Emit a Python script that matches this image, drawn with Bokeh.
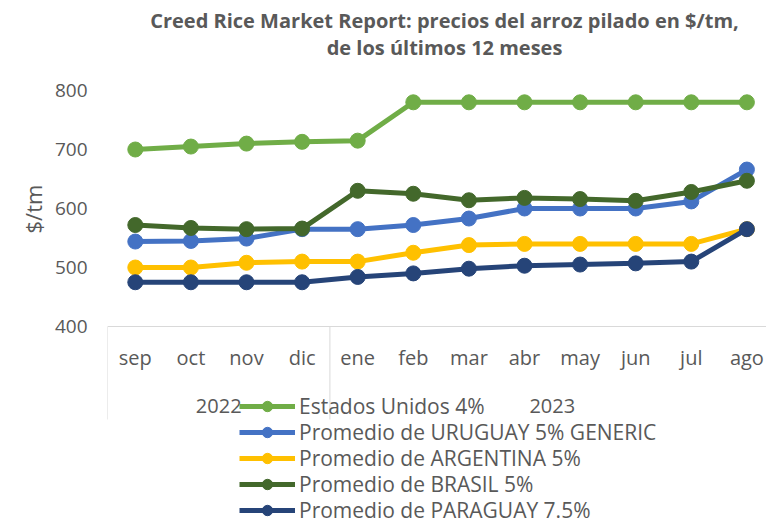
from bokeh.plotting import figure
from bokeh.models import Range1d, FixedTicker, Legend, LegendItem, Title
from bokeh.core.properties import value
from bokeh.embed import file_html
from bokeh.resources import INLINE

months = ["sep", "oct", "nov", "dic", "ene", "feb", "mar", "abr", "may", "jun", "jul", "ago"]
years = ["2022", "2023"]
year_first_month = [0, 4]
year_last_month = [3, 11]

usa = [700, 705, 710, 713, 715, 780, 780, 780, 780, 780, 780, 780]
uruguay = [544, 545, 549, 565, 565, 572, 583, 600, 600, 600, 612, 666]
argentina = [500, 500, 508, 510, 510, 525, 538, 540, 540, 540, 540, 565]
brasil = [572, 567, 565, 566, 630, 625, 614, 618, 616, 613, 628, 647]
paraguay = [475, 475, 475, 475, 484, 490, 498, 503, 505, 507, 510, 565]

series_names = ["Estados Unidos 4%", "Promedio de URUGUAY 5% GENERIC",
                "Promedio de ARGENTINA 5%", "Promedio de BRASIL 5%",
                "Promedio de PARAGUAY 7.5%"]
series_values = [usa, uruguay, argentina, brasil, paraguay]
series_colors = ["#70AD47", "#4472C4", "#FFC000", "#43682B", "#264478"]

title_lines = ["Creed Rice Market Report: precios del arroz pilado en $/tm,",
               "de los últimos 12 meses"]
y_ticks = [400, 500, 600, 700, 800]
y_title = "$/tm"

FONT = "Open Sans"
GRAY = "#595959"
LIGHT = "#D9D9D9"

# layout (pixels)
W, H = 766, 519
FRAME_LEFT = 107
PLOT_TOP = 90                       # pixel row of the top value (800)
PX_PER_UNIT = 236 / 400.0           # vertical scale of the value axis
CAT_PX = 55.6                       # width of one month slot
Y_MIN, Y_MAX = y_ticks[0], y_ticks[-1]
y_bottom = Y_MIN - (H - PLOT_TOP - (Y_MAX - Y_MIN) * PX_PER_UNIT) / PX_PER_UNIT
y_top = Y_MAX + PLOT_TOP / PX_PER_UNIT
x_right = -0.5 + (W - FRAME_LEFT) / CAT_PX
month_label_y = Y_MIN - 31 / PX_PER_UNIT
year_label_y = Y_MIN - 79 / PX_PER_UNIT
sep_bottom_y = Y_MIN - 93 / PX_PER_UNIT
title_x = -0.5 + (444 - FRAME_LEFT) / CAT_PX
title_y = [Y_MAX + (PLOT_TOP - 20) / PX_PER_UNIT, Y_MAX + (PLOT_TOP - 47) / PX_PER_UNIT]

x = list(range(len(months)))

p = figure(width=W, height=H, output_backend="svg", toolbar_location=None,
           x_range=Range1d(-0.5, x_right), y_range=Range1d(y_bottom, y_top),
           min_border_left=FRAME_LEFT, min_border_right=0, min_border_top=0,
           min_border_bottom=0, outline_line_color=None)
p.grid.visible = False
p.xaxis.visible = False
p.title.text = ""

# chart title (two centred lines)
p.text(x=[title_x] * len(title_lines), y=title_y, text=title_lines,
       text_align="center", text_baseline="middle", text_font=value(FONT),
       text_font_size="20px", text_font_style="bold", text_color=GRAY)

# y axis
yax = p.yaxis[0]
yax.ticker = FixedTicker(ticks=y_ticks, minor_ticks=[])
yax.axis_line_color = None
yax.major_tick_line_color = None
yax.minor_tick_line_color = None
yax.major_label_standoff = 14
yax.major_label_text_font = FONT
yax.major_label_text_font_size = "19px"
yax.major_label_text_color = GRAY

ylab = Title(text=y_title, align="left", offset=286, text_font=FONT,
             text_font_size="22px", text_font_style="normal", text_color=GRAY,
             standoff=7)
p.add_layout(ylab, "left")

# category axis: baseline, group separators, month and year labels
cat_lo, cat_hi = x[0] - 0.5, x[-1] + 0.5
p.segment(x0=[cat_lo], y0=[Y_MIN], x1=[cat_hi], y1=[Y_MIN],
          line_color=LIGHT, line_width=1)
sep_x = [cat_lo] + [m + 0.5 for m in year_last_month]
p.segment(x0=sep_x, y0=[Y_MIN] * len(sep_x), x1=sep_x, y1=[sep_bottom_y] * len(sep_x),
          line_color=LIGHT, line_width=1)
p.text(x=x, y=[month_label_y] * len(x), text=months, text_align="center",
       text_baseline="middle", text_font=value(FONT), text_font_size="20px",
       text_color=GRAY)
year_pos = [(a + b) / 2 for a, b in zip(year_first_month, year_last_month)]
p.text(x=year_pos, y=[year_label_y] * len(years), text=years, text_align="center",
       text_baseline="middle", text_font=value(FONT), text_font_size="20px",
       text_color=GRAY)

# series
LEG_X, LEG_ROW0, LEG_PITCH, LEG_HALF = 132, 406, 26, 14.3
for i, (name, vals, col) in enumerate(zip(series_names, series_values, series_colors)):
    r1 = p.line(x, vals, line_width=5, line_color=col)
    r2 = p.scatter(x, vals, size=15, fill_color=col, line_color=col)
    row_bottom = LEG_ROW0 + i * LEG_PITCH + LEG_HALF
    leg = Legend(items=[LegendItem(label=name, renderers=[r1, r2])],
                 location=(LEG_X, H - row_bottom), border_line_color=None,
                 background_fill_alpha=0, padding=0, margin=0, spacing=0,
                 glyph_width=56, glyph_height=26, label_height=26, label_standoff=4,
                 label_text_font=FONT, label_text_font_size="21px",
                 label_text_color=GRAY)
    p.add_layout(leg)

open("out.html", "w").write(file_html(p, INLINE))
